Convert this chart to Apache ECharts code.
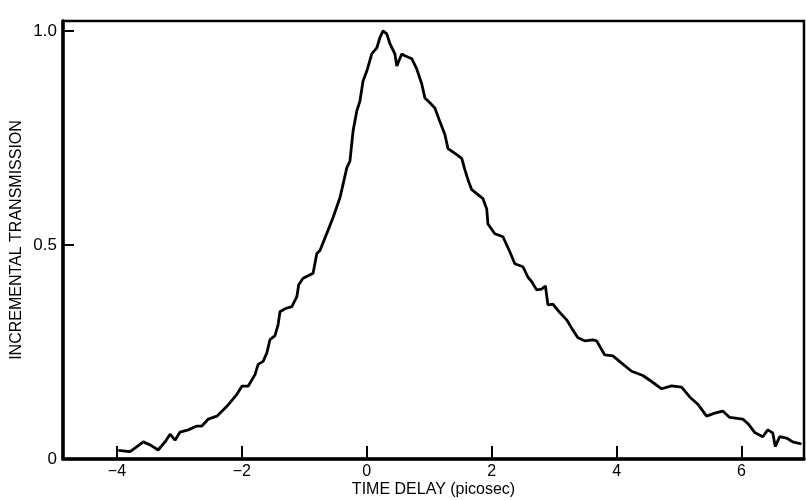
<!DOCTYPE html>
<html>
<head>
<meta charset="utf-8">
<script src="https://cdn.jsdelivr.net/npm/echarts@6/dist/echarts.min.js"></script>
<style>
  html, body { margin: 0; padding: 0; background: #fff; }
  #chart { width: 806px; height: 500px; }
</style>
</head>
<body>
<div id="chart"></div>
<script>
// time delay (picosec)
var timeDelay = [
  -3.98, -3.79, -3.68, -3.58, -3.47, -3.34, -3.22, -3.15, -3.07, -2.99,
  -2.86, -2.72, -2.64, -2.54, -2.40, -2.24, -2.08, -2.00, -1.90, -1.79,
  -1.74, -1.66, -1.60, -1.55, -1.47, -1.42, -1.39, -1.31, -1.20, -1.12,
  -1.09, -1.02, -0.86, -0.80, -0.75, -0.64, -0.54, -0.43, -0.32, -0.27,
  -0.22, -0.16, -0.11, -0.06, 0.00, 0.08, 0.16, 0.21, 0.26, 0.32,
  0.37, 0.45, 0.48, 0.56, 0.61, 0.72, 0.80, 0.88, 0.93, 1.01,
  1.09, 1.17, 1.25, 1.30, 1.44, 1.52, 1.57, 1.63, 1.68, 1.86,
  1.92, 1.94, 2.05, 2.18, 2.29, 2.37, 2.50, 2.58, 2.64, 2.72,
  2.80, 2.86, 2.90, 2.98, 3.09, 3.20, 3.30, 3.38, 3.49, 3.62,
  3.68, 3.81, 3.94, 4.08, 4.24, 4.42, 4.56, 4.72, 4.88, 5.04,
  5.17, 5.30, 5.44, 5.57, 5.70, 5.81, 6.02, 6.10, 6.21, 6.34,
  6.42, 6.50, 6.54, 6.61, 6.72, 6.82, 6.96
];
// incremental transmission (normalised)
var transmission = [
  0.020, 0.017, 0.029, 0.040, 0.033, 0.021, 0.042, 0.058, 0.044, 0.063,
  0.068, 0.077, 0.077, 0.093, 0.100, 0.123, 0.151, 0.170, 0.170, 0.197,
  0.221, 0.228, 0.248, 0.279, 0.288, 0.314, 0.344, 0.351, 0.356, 0.379,
  0.407, 0.422, 0.434, 0.480, 0.487, 0.527, 0.564, 0.610, 0.680, 0.696,
  0.766, 0.813, 0.836, 0.883, 0.906, 0.946, 0.960, 0.984, 1.000, 0.993,
  0.970, 0.946, 0.918, 0.946, 0.942, 0.935, 0.911, 0.876, 0.843, 0.832,
  0.820, 0.788, 0.758, 0.725, 0.711, 0.702, 0.676, 0.648, 0.629, 0.608,
  0.584, 0.549, 0.526, 0.519, 0.484, 0.456, 0.449, 0.425, 0.414, 0.395,
  0.397, 0.404, 0.360, 0.362, 0.342, 0.325, 0.301, 0.283, 0.276, 0.278,
  0.276, 0.243, 0.241, 0.224, 0.205, 0.195, 0.181, 0.164, 0.171, 0.168,
  0.145, 0.128, 0.100, 0.107, 0.112, 0.097, 0.093, 0.083, 0.062, 0.052,
  0.068, 0.061, 0.029, 0.052, 0.049, 0.040, 0.035
];
var xTicks = [-4, -2, 0, 2, 4, 6];
var yTicks = [0, 0.5, 1.0];

var points = timeDelay.map(function (t, i) { return [t, transmission[i]]; });

var font = "'Liberation Sans', Arial, sans-serif";

var chart = echarts.init(document.getElementById('chart'));
var option = {
  animation: false,
  backgroundColor: '#fff',
  grid: {
    left: 63, right: 2, top: 21, bottom: 41,
    outerBoundsMode: 'none',
    show: true, borderColor: '#000', borderWidth: 2.5
  },
  xAxis: {
    type: 'value',
    min: -4.864,
    max: 7.0,
    name: 'TIME DELAY (picosec)',
    nameLocation: 'middle',
    nameMoveOverlap: false,
    nameGap: 23,
    nameTextStyle: { color: '#000', fontSize: 16, fontFamily: font },
    axisLine: { onZero: false, lineStyle: { color: '#000', width: 3.5 } },
    axisTick: { inside: true, length: 13, lineStyle: { color: '#000', width: 2 }, customValues: xTicks },
    axisLabel: {
      customValues: xTicks,
      color: '#000', fontSize: 16, fontFamily: font, margin: 5,
      formatter: function (v) { return v < 0 ? '\u2212' + Math.abs(v) : String(v); }
    },
    splitLine: { show: false }
  },
  yAxis: {
    type: 'value',
    min: 0,
    max: 1.023,
    name: 'INCREMENTAL TRANSMISSION',
    nameLocation: 'middle',
    nameMoveOverlap: false,
    nameGap: 38,
    nameTextStyle: { color: '#000', fontSize: 16, fontFamily: font },
    axisLine: { onZero: false, lineStyle: { color: '#000', width: 3.5 } },
    axisTick: { inside: true, length: 11, lineStyle: { color: '#000', width: 2 }, customValues: yTicks },
    axisLabel: {
      customValues: yTicks,
      color: '#000', fontSize: 17, fontFamily: font, margin: 6,
      formatter: function (v) { return v === 0 ? '0' : v.toFixed(1); }
    },
    splitLine: { show: false }
  },
  series: [{
    type: 'line',
    data: points,
    showSymbol: false,
    lineStyle: { color: '#000', width: 2.8 }
  }]
};
chart.setOption(option);
</script>
</body>
</html>
